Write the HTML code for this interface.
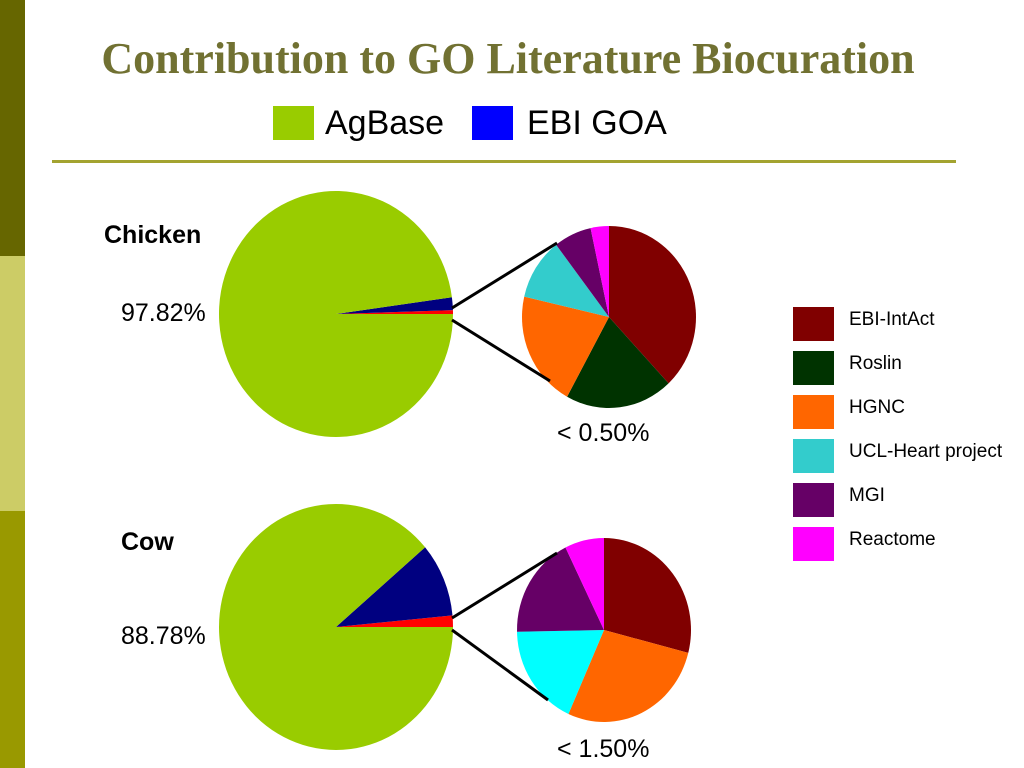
<!DOCTYPE html>
<html><head><meta charset="utf-8"><style>
body{margin:0;width:1024px;height:768px;overflow:hidden;background:#fff;position:relative;font-family:"Liberation Sans",sans-serif}
.abs{position:absolute;white-space:nowrap}
</style></head><body>
<div class="abs" style="left:0;top:0;width:25px;height:256px;background:#666600"></div>
<div class="abs" style="left:0;top:256px;width:25px;height:255px;background:#cccc66"></div>
<div class="abs" style="left:0;top:511px;width:25px;height:257px;background:#999900"></div>
<div class="abs" style="left:0;top:33px;width:1016px;text-align:center;font-family:'Liberation Serif',serif;font-weight:bold;font-size:44px;color:#717132">Contribution to GO Literature Biocuration</div>
<div class="abs" style="left:52px;top:160px;width:904px;height:3px;background:#a3a330"></div>
<svg class="abs" style="left:0;top:0" width="1024" height="768">
<g id="g"></g>
</svg>
<script>
const mainLabels=["AgBase","EBI GOA","Other"];
const mainColors=["#99cc00","#000080","#ff0000"];
const chickenMain=[97.82,1.68,0.5];
const cowMain=[88.78,9.72,1.5];
const subLabels=["EBI-IntAct","Roslin","HGNC","UCL-Heart project","MGI","Reactome"];
const chickenSub=[38,20,20.6,11,7,3.4];
const cowSub=[29,0,27.7,18,18,7.3];
const subColorsChicken=["#800000","#003300","#ff6600","#33cccc","#660066","#ff00ff"];
const subColorsCow=["#800000","#003300","#ff6600","#00ffff","#660066","#ff00ff"];
const NS="http://www.w3.org/2000/svg";
const g=document.getElementById('g');
function mk(tag,attrs){const e=document.createElementNS(NS,tag);for(const k in attrs)e.setAttribute(k,attrs[k]);g.appendChild(e);return e;}
function slice(cx,cy,rx,ry,a0,a1,col,name){
  const x0=cx+rx*Math.cos(a0),y0=cy+ry*Math.sin(a0),x1=cx+rx*Math.cos(a1),y1=cy+ry*Math.sin(a1);
  const large=Math.abs(a1-a0)>Math.PI?1:0;const sweep=a1>a0?1:0;
  const p=mk('path',{d:`M${cx},${cy}L${x0},${y0}A${rx},${ry} 0 ${large} ${sweep} ${x1},${y1}Z`,fill:col});
  
  
}
function mainPie(cx,cy,rx,ry,vals,prefix){
  const tot=vals.reduce((a,b)=>a+b,0);let a=0;
  const order=[2,1,0];
  for(const i of order){const s=vals[i]/tot*2*Math.PI;slice(cx,cy,rx,ry,-a,-(a+s),mainColors[i],prefix+'-'+mainLabels[i].toLowerCase().replace(/ /g,'-'));a+=s;}
}
function subPie(cx,cy,rx,ry,vals,cols,prefix){
  const tot=vals.reduce((a,b)=>a+b,0);let a=-Math.PI/2;
  vals.forEach((v,i)=>{if(v<=0)return;const s=v/tot*2*Math.PI;slice(cx,cy,rx,ry,a,a+s,cols[i],prefix+'-'+subLabels[i].toLowerCase().replace(/ /g,'-'));a+=s;});
}
mainPie(336,314,117,123,chickenMain,'chicken-main');
subPie(609,317,87,91,chickenSub,subColorsChicken,'chicken-sub');
mainPie(336,627,117,123,cowMain,'cow-main');
subPie(604,630,87,92,cowSub,subColorsCow,'cow-sub');
[[452,308,557,243],[452,320,550,381],[452,618,557,553],[452,630,548,700]].forEach((l,i)=>{
  const e=mk('line',{x1:l[0],y1:l[1],x2:l[2],y2:l[3],stroke:'#000','stroke-width':3});
  
  
});
</script>
<div class="abs" style="left:273px;top:106px;width:41px;height:34px;background:#99cc00"></div>
<div class="abs" style="left:325px;top:104px;font-size:34px">AgBase</div>
<div class="abs" style="left:472px;top:106px;width:41px;height:34px;background:#0000ff"></div>
<div class="abs" style="left:527px;top:104px;font-size:34px">EBI GOA</div>
<div class="abs" style="left:104px;top:221px;font-size:25px;font-weight:bold">Chicken</div>
<div class="abs" style="left:121px;top:299px;font-size:25px">97.82%</div>
<div class="abs" style="left:557px;top:419px;font-size:25px">&lt; 0.50%</div>
<div class="abs" style="left:121px;top:528px;font-size:25px;font-weight:bold">Cow</div>
<div class="abs" style="left:121px;top:622px;font-size:25px">88.78%</div>
<div class="abs" style="left:557px;top:735px;font-size:25px">&lt; 1.50%</div>
<div class="abs" style="left:793px;top:307px">
 <div style="position:absolute;top:0;left:0;width:230px;height:34px"><div style="position:absolute;width:41px;height:34px;background:#800000"></div><div style="position:absolute;left:56px;top:2px;font-size:19px;white-space:nowrap">EBI-IntAct</div></div>
 <div style="position:absolute;top:44px;left:0;width:230px;height:34px"><div style="position:absolute;width:41px;height:34px;background:#003300"></div><div style="position:absolute;left:56px;top:2px;font-size:19px;white-space:nowrap">Roslin</div></div>
 <div style="position:absolute;top:88px;left:0;width:230px;height:34px"><div style="position:absolute;width:41px;height:34px;background:#ff6600"></div><div style="position:absolute;left:56px;top:2px;font-size:19px;white-space:nowrap">HGNC</div></div>
 <div style="position:absolute;top:132px;left:0;width:230px;height:34px"><div style="position:absolute;width:41px;height:34px;background:#33cccc"></div><div style="position:absolute;left:56px;top:2px;font-size:19px;white-space:nowrap">UCL-Heart project</div></div>
 <div style="position:absolute;top:176px;left:0;width:230px;height:34px"><div style="position:absolute;width:41px;height:34px;background:#660066"></div><div style="position:absolute;left:56px;top:2px;font-size:19px;white-space:nowrap">MGI</div></div>
 <div style="position:absolute;top:220px;left:0;width:230px;height:34px"><div style="position:absolute;width:41px;height:34px;background:#ff00ff"></div><div style="position:absolute;left:56px;top:2px;font-size:19px;white-space:nowrap">Reactome</div></div>
</div>
</body></html>
